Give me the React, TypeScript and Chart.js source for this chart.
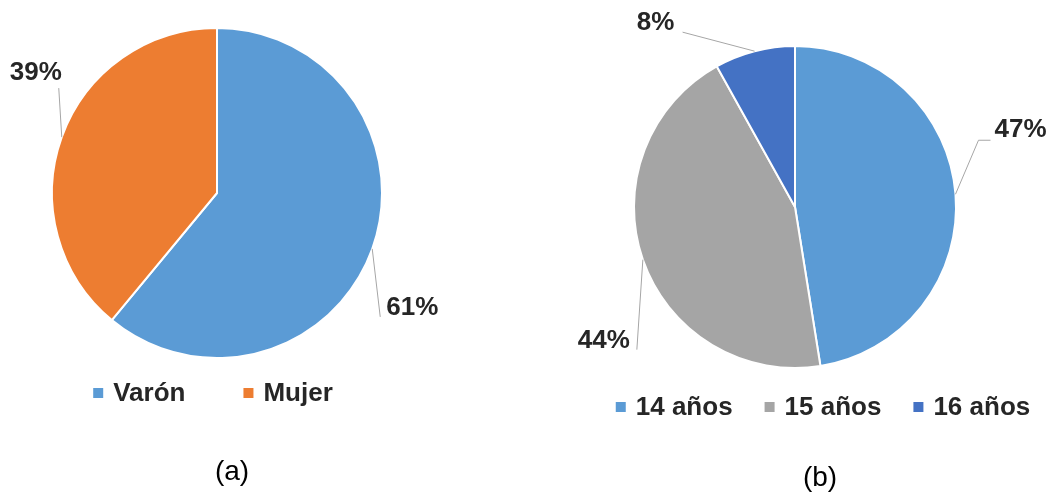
import React, { useEffect, useRef } from "react";
import { Chart, registerables } from "chart.js";

Chart.register(...registerables);

// (a) sexo
const sexLabels = ["Varón", "Mujer"];
const sexValues = [61, 39];
const sexColors = ["#5B9BD5", "#ED7D31"];

// (b) edad
const ageLabels = ["14 años", "15 años", "16 años"];
const ageValues = [47, 44, 8];
const ageColors = ["#5B9BD5", "#A5A5A5", "#4472C4"];

type Pt = [number, number];
type Callout = { path: Pt[]; text: Pt };

// Leader-line bends and label centres, relative to the slice's outer mid-point.
const sexCallouts: Callout[] = [
  { path: [[8, 68]], text: [40, 59] },
  { path: [[-3, -49]], text: [-26, -64] },
];
const ageCallouts: Callout[] = [
  { path: [[23, -54], [35, -54]], text: [65, -64] },
  { path: [[-6, 90]], text: [-39, 81] },
  { path: [[-72, -19]], text: [-99, -28] },
];

const FONT = "'Liberation Sans', Arial, Helvetica, sans-serif";
const TEXT_COLOR = "#262626";

type PieSetup = {
  labels: string[];
  values: number[];
  colors: string[];
  callouts: Callout[];
  radius: number;
  padding: { left: number; right: number; top: number; bottom: number };
  legend: { centerX: number; y: number; itemGap: number };
  caption: { text: string; x: number; y: number };
};

function makeDecorations(setup: PieSetup) {
  return {
    id: "pieDecorations",
    afterDatasetsDraw(chart: any) {
      const ctx: CanvasRenderingContext2D = chart.ctx;
      const meta = chart.getDatasetMeta(0);
      const data = chart.data.datasets[0].data as number[];
      meta.data.forEach((arc: any, i: number) => {
        const { x, y, startAngle, endAngle, outerRadius } = arc.getProps(
          ["x", "y", "startAngle", "endAngle", "outerRadius"],
          true
        );
        const mid = (startAngle + endAngle) / 2;
        const ax = x + Math.cos(mid) * outerRadius;
        const ay = y + Math.sin(mid) * outerRadius;
        const c = setup.callouts[i];
        ctx.save();
        ctx.strokeStyle = "#A6A6A6";
        ctx.lineWidth = 1;
        ctx.beginPath();
        ctx.moveTo(ax, ay);
        c.path.forEach(([dx, dy]) => ctx.lineTo(ax + dx, ay + dy));
        ctx.stroke();
        ctx.font = `bold 26px ${FONT}`;
        ctx.fillStyle = TEXT_COLOR;
        ctx.textAlign = "center";
        ctx.textBaseline = "middle";
        ctx.fillText(`${data[i]}%`, ax + c.text[0], ay + c.text[1]);
        ctx.restore();
      });
    },
    afterDraw(chart: any) {
      const ctx: CanvasRenderingContext2D = chart.ctx;
      const labels = chart.data.labels as string[];
      const colors = chart.data.datasets[0].backgroundColor as string[];
      const box = 10;
      const boxGap = 10;
      ctx.save();
      ctx.font = `bold 26px ${FONT}`;
      const widths = labels.map((l) => ctx.measureText(l).width);
      const total =
        widths.reduce((s, w) => s + box + boxGap + w, 0) +
        setup.legend.itemGap * (labels.length - 1);
      let cx = setup.legend.centerX - total / 2;
      const ly = setup.legend.y;
      labels.forEach((l, i) => {
        ctx.fillStyle = colors[i];
        ctx.fillRect(cx, ly - box / 2, box, box);
        cx += box + boxGap;
        ctx.fillStyle = TEXT_COLOR;
        ctx.textAlign = "left";
        ctx.textBaseline = "middle";
        ctx.fillText(l, cx, ly + 1);
        cx += widths[i] + setup.legend.itemGap;
      });
      ctx.font = `28px ${FONT}`;
      ctx.fillStyle = "#000";
      ctx.textAlign = "center";
      ctx.textBaseline = "middle";
      ctx.fillText(setup.caption.text, setup.caption.x, setup.caption.y);
      ctx.restore();
    },
  };
}

function PieChart({ setup, width, height }: { setup: PieSetup; width: number; height: number }) {
  const ref = useRef<HTMLCanvasElement | null>(null);
  useEffect(() => {
    if (!ref.current) return;
    const chart = new Chart(ref.current, {
      type: "pie",
      data: {
        labels: setup.labels,
        datasets: [
          {
            data: setup.values,
            backgroundColor: setup.colors,
            borderColor: "#FFFFFF",
            borderWidth: 2,
            radius: setup.radius,
          } as any,
        ],
      },
      options: {
        responsive: false,
        animation: false,
        layout: { padding: setup.padding },
        plugins: {
          legend: { display: false },
          tooltip: { enabled: false },
        },
      },
      plugins: [makeDecorations(setup)],
    });
    return () => chart.destroy();
  }, [setup]);
  return <canvas ref={ref} width={width} height={height} style={{ display: "block" }} />;
}

const sexSetup: PieSetup = {
  labels: sexLabels,
  values: sexValues,
  colors: sexColors,
  callouts: sexCallouts,
  radius: 165,
  padding: { left: 0, right: 92, top: 0, bottom: 109 },
  legend: { centerX: 213, y: 393, itemGap: 58 },
  caption: { text: "(a)", x: 232, y: 472 },
};

const ageSetup: PieSetup = {
  labels: ageLabels,
  values: ageValues,
  colors: ageColors,
  callouts: ageCallouts,
  radius: 161,
  padding: { left: 11, right: 0, top: 0, bottom: 81 },
  legend: { centerX: 297, y: 407, itemGap: 32 },
  caption: { text: "(b)", x: 294, y: 478 },
};

export default function App() {
  return (
    <div
      style={{
        position: "fixed",
        left: 0,
        top: 0,
        width: 1053,
        height: 495,
        background: "#FFFFFF",
        overflow: "hidden",
      }}
    >
      <div style={{ position: "absolute", left: 0, top: 0 }}>
        <PieChart setup={sexSetup} width={526} height={495} />
      </div>
      <div style={{ position: "absolute", left: 526, top: 0 }}>
        <PieChart setup={ageSetup} width={527} height={495} />
      </div>
    </div>
  );
}
